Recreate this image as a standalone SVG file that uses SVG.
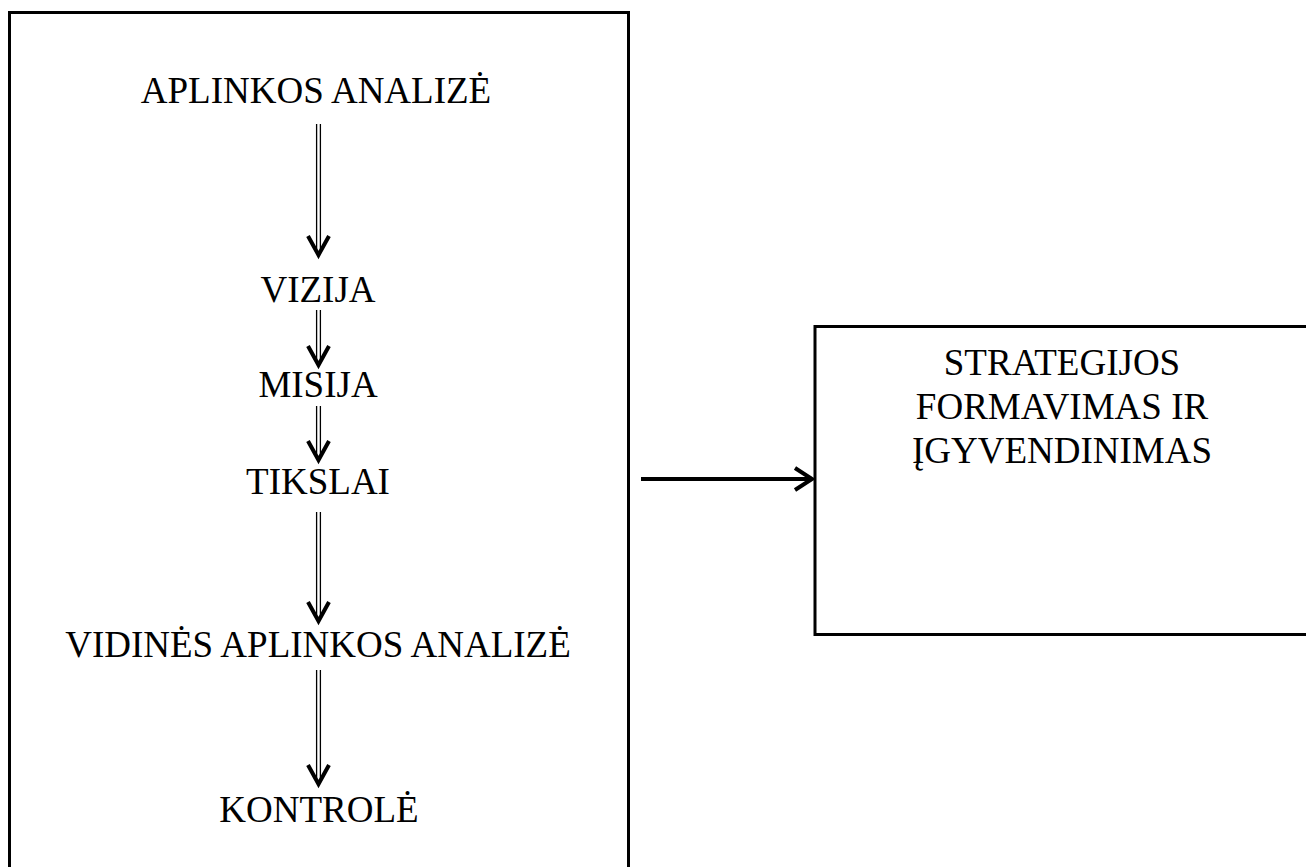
<svg xmlns="http://www.w3.org/2000/svg" width="1306" height="867" viewBox="0 0 1306 867">
<style>
.box{fill:#fff;stroke:#000;stroke-width:3}
.t{font-family:"Liberation Serif","Times New Roman",serif;font-size:37px;fill:#000;text-anchor:middle}
.dl{stroke:#000;stroke-width:1.3;fill:none}
.head{stroke:#000;stroke-width:4;fill:none;stroke-linecap:butt;stroke-linejoin:miter}
.arr{stroke:#000;stroke-width:4;fill:none}
</style>
<rect width="1306" height="867" fill="#fff"/>
<g id="left-box">
<rect class="box" x="9.5" y="12.5" width="619" height="900"/>
</g>
<g id="right-box">
<rect class="box" x="815" y="326.5" width="520" height="308"/>
<text class="t" x="1062" y="375">STRATEGIJOS</text>
<text class="t" x="1062" y="419">FORMAVIMAS IR</text>
<text class="t" x="1062" y="463">ĮGYVENDINIMAS</text>
</g>
<g id="n-aplinkos"><text class="t" x="316" y="103">APLINKOS ANALIZĖ</text></g>
<g id="n-vizija"><text class="t" x="318" y="302">VIZIJA</text></g>
<g id="n-misija"><text class="t" x="318" y="397">MISIJA</text></g>
<g id="n-tikslai"><text class="t" x="318" y="494">TIKSLAI</text></g>
<g id="n-vidines"><text class="t" x="318" y="657">VIDINĖS APLINKOS ANALIZĖ</text></g>
<g id="n-kontrole"><text class="t" x="319" y="822">KONTROLĖ</text></g>
<g id="connectors">
<g>
<path class="dl" d="M316.6 124V252M320.4 124V252"/>
<path class="head" d="M308 236L318.5 255L329 236"/>
</g>
<g>
<path class="dl" d="M316.6 310V362M320.4 310V362"/>
<path class="head" d="M308 346L318.5 365L329 346"/>
</g>
<g>
<path class="dl" d="M316.6 406V457M320.4 406V457"/>
<path class="head" d="M308 441L318.5 460L329 441"/>
</g>
<g>
<path class="dl" d="M316.6 512V618M320.4 512V618"/>
<path class="head" d="M308 602L318.5 621L329 602"/>
</g>
<g>
<path class="dl" d="M316.6 670V781M320.4 670V781"/>
<path class="head" d="M308 765L318.5 784L329 765"/>
</g>
<g>
<path class="arr" d="M641 479H810"/>
<path class="head" d="M795 468L812 479L795 490"/>
</g>
</g>
</svg>
